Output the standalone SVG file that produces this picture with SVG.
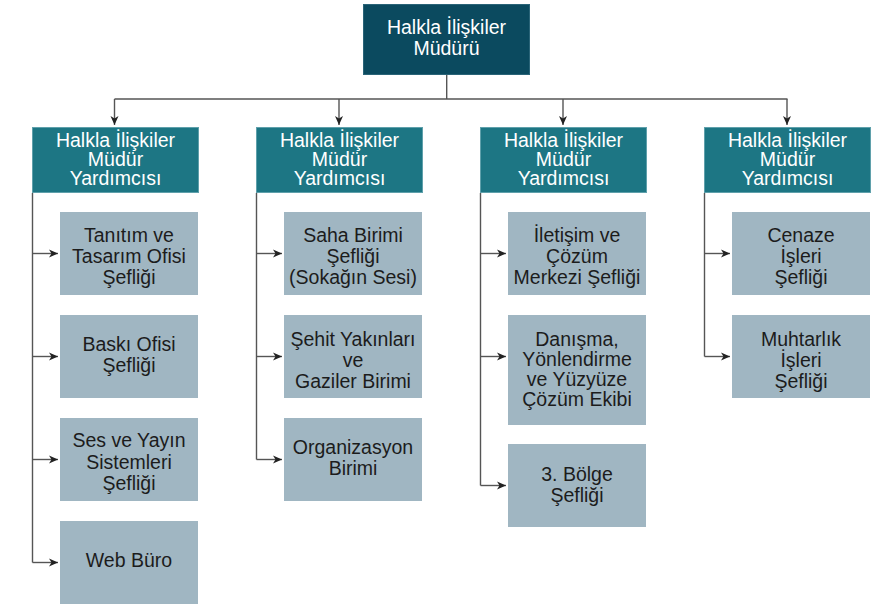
<svg xmlns="http://www.w3.org/2000/svg" width="893" height="604" viewBox="0 0 893 604">
<style>
text{font-family:"Liberation Sans",Arial,sans-serif;font-size:19.5px;text-anchor:middle}
.top rect{fill:#0b4a5f;stroke:#2a6478;stroke-width:1}
.l2 rect{fill:#1d7684;stroke:#5fa0ab;stroke-width:1}
.l2 text,.top text{fill:#ffffff}
.l3 rect{fill:#a0b6c2}
.l3 text{fill:#1c1c1c}
.c path{fill:none;stroke:#555555;stroke-width:1.4}
</style>
<defs>
<marker id="ah" markerUnits="userSpaceOnUse" markerWidth="10" markerHeight="9" refX="9" refY="4.5" orient="auto">
<path d="M0,0.5 L9,4.5 L0,8.5 L2.5,4.5 z" fill="#222222"/>
</marker>
</defs>
<rect width="893" height="604" fill="#ffffff"/>
<g class="c" id="connectors">
<path d="M446.7,75 V99"/>
<path d="M114.5,99 H787.5"/>
<path d="M114.5,99 V125" marker-end="url(#ah)"/>
<path d="M339,99 V125" marker-end="url(#ah)"/>
<path d="M563,99 V125" marker-end="url(#ah)"/>
<path d="M787,99 V125" marker-end="url(#ah)"/>
<path d="M32.5,193 V562.5"/>
<path d="M32.5,253.5 H58" marker-end="url(#ah)"/>
<path d="M32.5,356.5 H58" marker-end="url(#ah)"/>
<path d="M32.5,459.5 H58" marker-end="url(#ah)"/>
<path d="M32.5,562.5 H58" marker-end="url(#ah)"/>
<path d="M256.5,193 V459.5"/>
<path d="M256.5,253.5 H282" marker-end="url(#ah)"/>
<path d="M256.5,356.5 H282" marker-end="url(#ah)"/>
<path d="M256.5,459.5 H282" marker-end="url(#ah)"/>
<path d="M480.5,193 V485.5"/>
<path d="M480.5,253.5 H506" marker-end="url(#ah)"/>
<path d="M480.5,356.5 H506" marker-end="url(#ah)"/>
<path d="M480.5,485.5 H506" marker-end="url(#ah)"/>
<path d="M704.5,193 V356.5"/>
<path d="M704.5,253.5 H730" marker-end="url(#ah)"/>
<path d="M704.5,356.5 H730" marker-end="url(#ah)"/>
</g>
<g class="top" id="mudur">
<rect x="363.5" y="4.5" width="166" height="70"/>
<text x="446.5" y="33.5">Halkla İlişkiler</text>
<text x="446.5" y="55">Müdürü</text>
</g>
<g class="l2" id="yard1">
<rect x="32.5" y="127.5" width="166" height="65"/>
<text x="115.5" y="147">Halkla İlişkiler</text>
<text x="115.5" y="166">Müdür</text>
<text x="115.5" y="185">Yardımcısı</text>
</g>
<g class="l2" id="yard2">
<rect x="256.5" y="127.5" width="166" height="65"/>
<text x="339.5" y="147">Halkla İlişkiler</text>
<text x="339.5" y="166">Müdür</text>
<text x="339.5" y="185">Yardımcısı</text>
</g>
<g class="l2" id="yard3">
<rect x="480.5" y="127.5" width="166" height="65"/>
<text x="563.5" y="147">Halkla İlişkiler</text>
<text x="563.5" y="166">Müdür</text>
<text x="563.5" y="185">Yardımcısı</text>
</g>
<g class="l2" id="yard4">
<rect x="704.5" y="127.5" width="166" height="65"/>
<text x="787.5" y="147">Halkla İlişkiler</text>
<text x="787.5" y="166">Müdür</text>
<text x="787.5" y="185">Yardımcısı</text>
</g>
<g class="l3" id="tanitim">
<rect x="60" y="212" width="138" height="83"/>
<text x="129" y="242">Tanıtım ve</text>
<text x="129" y="263">Tasarım Ofisi</text>
<text x="129" y="284">Şefliği</text>
</g>
<g class="l3" id="baski">
<rect x="60" y="315" width="138" height="83"/>
<text x="129" y="351">Baskı Ofisi</text>
<text x="129" y="372">Şefliği</text>
</g>
<g class="l3" id="ses">
<rect x="60" y="418" width="138" height="83"/>
<text x="129" y="447">Ses ve Yayın</text>
<text x="129" y="468.5">Sistemleri</text>
<text x="129" y="490">Şefliği</text>
</g>
<g class="l3" id="web">
<rect x="60" y="521" width="138" height="83"/>
<text x="129" y="566.5">Web Büro</text>
</g>
<g class="l3" id="saha">
<rect x="284" y="212" width="138" height="83"/>
<text x="353" y="242">Saha Birimi</text>
<text x="353" y="263">Şefliği</text>
<text x="353" y="284">(Sokağın Sesi)</text>
</g>
<g class="l3" id="sehit">
<rect x="284" y="315" width="138" height="83"/>
<text x="353" y="345.5">Şehit Yakınları</text>
<text x="353" y="366.5">ve</text>
<text x="353" y="387.5">Gaziler Birimi</text>
</g>
<g class="l3" id="organizasyon">
<rect x="284" y="418" width="138" height="83"/>
<text x="353" y="453.5">Organizasyon</text>
<text x="353" y="474.5">Birimi</text>
</g>
<g class="l3" id="iletisim">
<rect x="508" y="212" width="138" height="83"/>
<text x="577" y="242">İletişim ve</text>
<text x="577" y="263">Çözüm</text>
<text x="577" y="284">Merkezi Şefliği</text>
</g>
<g class="l3" id="danisma">
<rect x="508" y="315" width="138" height="110"/>
<text x="577" y="345.5">Danışma,</text>
<text x="577" y="365.5">Yönlendirme</text>
<text x="577" y="385.5">ve Yüzyüze</text>
<text x="577" y="405.5">Çözüm Ekibi</text>
</g>
<g class="l3" id="bolge">
<rect x="508" y="444" width="138" height="83"/>
<text x="577" y="481">3. Bölge</text>
<text x="577" y="502">Şefliği</text>
</g>
<g class="l3" id="cenaze">
<rect x="732" y="212" width="138" height="83"/>
<text x="801" y="242">Cenaze</text>
<text x="801" y="263">İşleri</text>
<text x="801" y="284">Şefliği</text>
</g>
<g class="l3" id="muhtarlik">
<rect x="732" y="315" width="138" height="83"/>
<text x="801" y="345.5">Muhtarlık</text>
<text x="801" y="366.5">İşleri</text>
<text x="801" y="387.5">Şefliği</text>
</g>
</svg>
